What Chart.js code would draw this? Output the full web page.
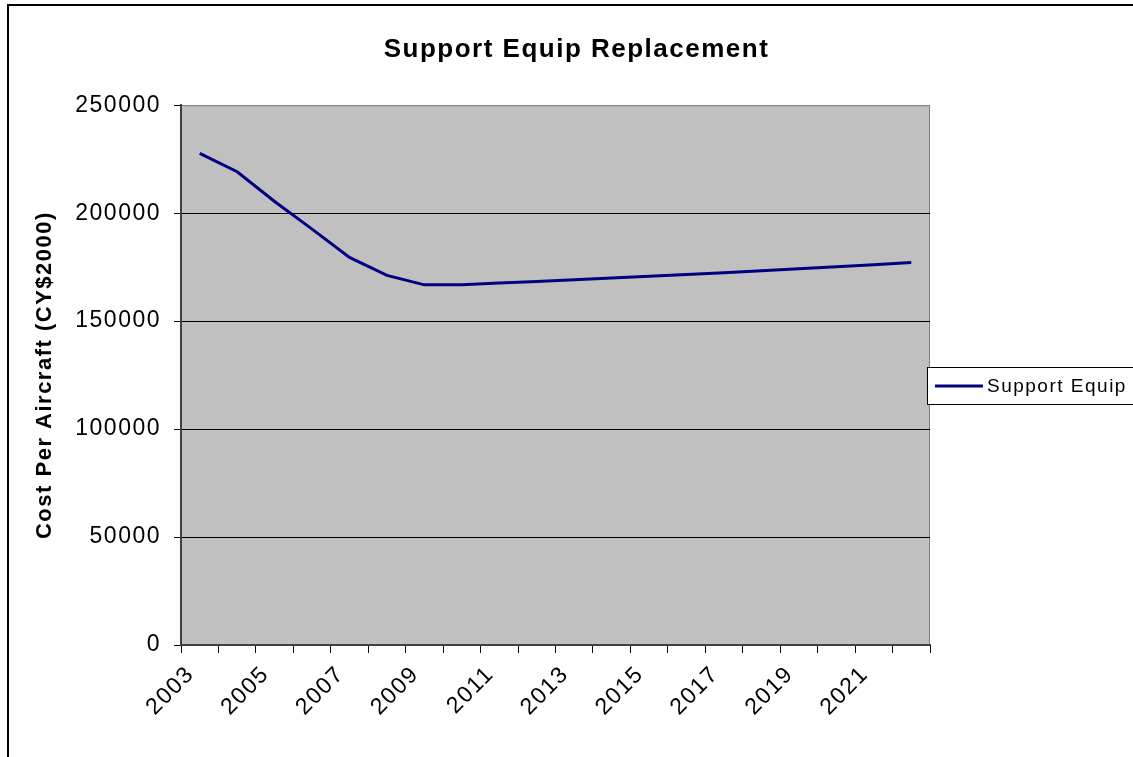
<!DOCTYPE html>
<html>
<head>
<meta charset="utf-8">
<script src="https://cdn.jsdelivr.net/npm/chart.js@4/dist/chart.umd.min.js"></script>
<style>
  body { margin: 0; background: #fff; }
  canvas { display: block; }
</style>
</head>
<body>
<canvas id="seChart" width="1133" height="757"></canvas>
<script>
const years = ["2003", "2004", "2005", "2006", "2007", "2008", "2009", "2010", "2011", "2012",
  "2013", "2014", "2015", "2016", "2017", "2018", "2019", "2020", "2021", "2022"];
const supportEquip = [227700, 219200, 205400, 192600, 179500, 171200, 166800, 166800, 167600, 168400,
  169200, 170000, 170800, 171600, 172400, 173300, 174200, 175200, 176100, 177100];
const yTicks = [0, 50000, 100000, 150000, 200000, 250000];

const chartTitle = "Support Equip Replacement";
const yTitle = "Cost Per Aircraft (CY$2000)";
const FONT = "'Liberation Sans', Arial, sans-serif";

// gray plot area, outer frame, legend box, spaced text
const frame = {
  id: "frame",
  beforeDraw(chart) {
    const { ctx, chartArea: a } = chart;
    ctx.letterSpacing = "1.5px";
    ctx.save();
    ctx.fillStyle = "#C0C0C0";
    ctx.fillRect(a.left, a.top, a.right - a.left, a.bottom - a.top);
    ctx.strokeStyle = "#808080";
    ctx.lineWidth = 1;
    ctx.beginPath();
    ctx.moveTo(a.left, a.top + 0.5);
    ctx.lineTo(a.right - 0.5, a.top + 0.5);
    ctx.lineTo(a.right - 0.5, a.bottom);
    ctx.stroke();
    ctx.restore();
  },
  afterDraw(chart) {
    const { ctx } = chart;
    ctx.save();
    ctx.strokeStyle = "#000";
    ctx.lineWidth = 2;
    ctx.beginPath();
    ctx.moveTo(8, 757);
    ctx.lineTo(8, 5);
    ctx.lineTo(1133, 5);
    ctx.stroke();

    const ds = chart.data.datasets[0];
    ctx.fillStyle = "#fff";
    ctx.fillRect(927, 367, 210, 37);
    ctx.strokeStyle = "#000";
    ctx.lineWidth = 1;
    ctx.strokeRect(927.5, 367.5, 210, 37);
    ctx.strokeStyle = ds.borderColor;
    ctx.lineWidth = 3;
    ctx.beginPath();
    ctx.moveTo(935, 386);
    ctx.lineTo(983, 386);
    ctx.stroke();
    ctx.fillStyle = "#000";
    ctx.font = "19px " + FONT;
    ctx.textBaseline = "middle";
    ctx.fillText(ds.label, 987, 387);
    ctx.restore();
  }
};

new Chart(document.getElementById("seChart"), {
  type: "line",
  data: {
    labels: years,
    datasets: [{
      label: "Support Equip",
      data: supportEquip,
      borderColor: "#000080",
      borderWidth: 3,
      pointRadius: 0,
      tension: 0
    }]
  },
  options: {
    responsive: false,
    animation: false,
    layout: { padding: { left: 20, top: 0, right: 0, bottom: 0 } },
    plugins: {
      legend: { display: false },
      tooltip: { enabled: false },
      title: {
        display: true,
        text: chartTitle,
        color: "#000",
        font: { family: FONT, size: 26, weight: "bold" },
        padding: { top: 34, bottom: 40 }
      }
    },
    scales: {
      x: {
        offset: true,
        afterFit: s => { s.height = 112; },
        grid: { offset: true, drawOnChartArea: false, drawTicks: true, tickLength: 8, color: "#000" },
        border: { display: true, color: "#404040", width: 2 },
        ticks: {
          autoSkip: false,
          maxRotation: 45,
          minRotation: 45,
          color: "#000",
          padding: 8,
          labelOffset: -9,
          font: { family: FONT, size: 23 },
          callback: (v, i) => (i % 2 === 0 ? years[i] : "")
        }
      },
      y: {
        min: 0,
        max: 250000,
        afterFit: s => { s.width = 161; },
        afterBuildTicks: s => { s.ticks = yTicks.map(v => ({ value: v })); },
        grid: {
          color: c => (c.tick && c.tick.value === 250000 ? "#808080" : "#000"),
          tickColor: "#000",
          tickLength: 7
        },
        border: { display: true, color: "#404040", width: 2 },
        ticks: {
          color: "#000",
          padding: 13,
          font: { family: FONT, size: 23 },
          callback: v => String(v)
        },
        title: {
          display: true,
          text: yTitle,
          color: "#000",
          font: { family: FONT, size: 22, weight: "bold" },
          padding: { top: 12 }
        }
      },
      // empty right-hand strip that holds the legend box
      side: {
        position: "right",
        afterFit: s => { s.width = 203; },
        grid: { display: false },
        border: { display: false },
        ticks: { display: false }
      }
    }
  },
  plugins: [frame]
});
</script>
</body>
</html>
